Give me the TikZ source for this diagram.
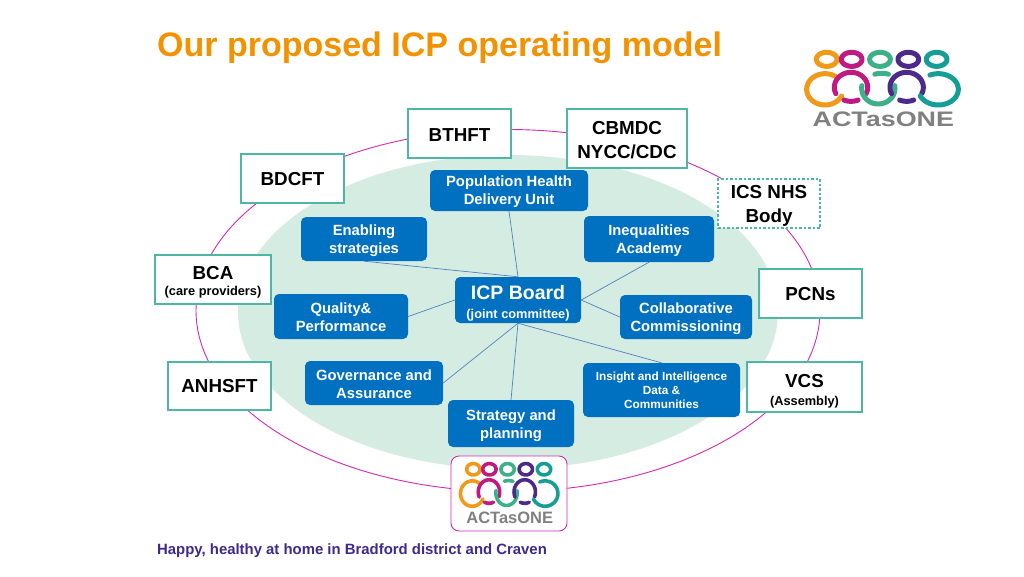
\documentclass[tikz,border=0pt]{standalone}
\usepackage{fontspec}
\setmainfont{Liberation Sans}
\definecolor{titleor}{HTML}{F39200}
\definecolor{footpur}{HTML}{3F2A8C}
\definecolor{boxteal}{HTML}{4DB6A5}
\definecolor{boardblue}{HTML}{0070C0}
\definecolor{pale}{HTML}{D5ECE3}
\definecolor{ringmag}{HTML}{D42BB0}
\definecolor{linkblue}{HTML}{4F81BD}
\definecolor{lgor}{HTML}{F09A1A}
\definecolor{lgmag}{HTML}{BE1A82}
\definecolor{lggr}{HTML}{3DB08A}
\definecolor{lgpu}{HTML}{4B2A8C}
\definecolor{lgte}{HTML}{159E96}
\definecolor{lggy}{HTML}{808080}
\tikzset{
  partner/.style={draw=boxteal,line width=1.1pt,fill=white,inner sep=0pt,align=center,font=\fontsize{18.8}{23.5}\selectfont\bfseries,text=black},
  unit/.style={fill=boardblue,rounded corners=5pt,inner sep=0pt,align=center,text=white,font=\fontsize{14.8}{18}\selectfont\bfseries},
  link/.style={draw=linkblue,line width=0.7pt},
}
\newcommand{\tp}[1]{\rule{0pt}{#1pt}}
\newcommand{\lgarc}[7]{\draw[#1] plot[domain=#6:#7,samples=40,smooth] ({#2+#4*cos(\x)},{#3+#5*sin(\x)});}
% logo in the units of a 3x crop: #1,#2 origin, #3 xscale, #4 yscale, #5 line width, #6 name, #7 font size, #8 text stretch
\newcommand{\actlogo}[8]{%
  \begin{scope}[shift={(#1,#2)},xscale=#3,yscale=#4,line width=#5,line cap=round]
    \lgarc{lgor}{110}{88}{31}{21}{0}{360}
    \lgarc{lgmag}{185}{88}{31}{21}{0}{360}
    \lgarc{lggr}{270}{88}{31}{21}{0}{360}
    \lgarc{lgpu}{355}{88}{31}{21}{0}{360}
    \lgarc{lgte}{440}{88}{31}{21}{0}{360}
    \lgarc{lgor}{105}{178}{55}{47}{25}{305}
    \lgarc{lgmag}{183}{172}{50}{45}{-205}{25}
    \lgarc{lgmag}{183}{172}{50}{42}{65}{115}
    \lgarc{lggr}{265}{175}{50}{47}{-10}{190}
    \lgarc{lggr}{275}{175}{60}{45}{-110}{-70}
    \lgarc{lgpu}{350}{172}{50}{45}{-205}{25}
    \lgarc{lgpu}{350}{172}{50}{42}{65}{115}
    \lgarc{lgte}{445}{178}{60}{47}{-115}{155}
  \end{scope}
  \node[text=lggy,inner sep=0pt,anchor=center] (#6) at (#1+#3*280,#2+#4*268) {\fontsize{#7}{10}\selectfont\bfseries\scalebox{#8}[1]{ACTasONE}};
}
\begin{document}
\begin{tikzpicture}[x=1pt,y=-1pt]
\useasboundingbox (0,0) rectangle (1024,576);
\fill[white] (0,0) rectangle (1024,576);
% ellipses
\draw[ringmag,line width=0.9pt] (508,310.5) ellipse [x radius=312,y radius=181];
\fill[pale] (508,312) ellipse [x radius=270,y radius=157];
% title and footer
\node[anchor=base west,inner sep=0pt,text=titleor,font=\fontsize{34}{36}\selectfont\bfseries] (title) at (157,56) {Our proposed ICP operating model};
\node[anchor=base west,inner sep=0pt,text=footpur,font=\fontsize{14.9}{17}\selectfont\bfseries] (foot) at (157,554) {Happy, healthy at home in Bradford district and Craven};
% partner boxes
\node[partner,minimum width=103pt,minimum height=49pt] (bthft) at (459.5,133.5) {\tp{15}BTHFT};
\node[partner,minimum width=120pt,minimum height=59pt] (cbmdc) at (627,138.5) {\tp{16}CBMDC\\NYCC/CDC};
\node[partner,dashed,dash pattern=on 2.5pt off 2pt,minimum width=102pt,minimum height=49pt] (ics) at (769,203.5) {\tp{18}ICS NHS\\Body};
\node[partner,minimum width=103pt,minimum height=49pt] (bdcft) at (292.5,178.5) {\tp{14}BDCFT};
\node[partner,minimum width=116pt,minimum height=49pt,font=\fontsize{18.8}{20}\selectfont\bfseries] (bca) at (213,279.5) {\tp{19}BCA\\[-4pt]{\fontsize{12.8}{15}\selectfont (care providers)}};
\node[partner,minimum width=103pt,minimum height=49pt] (pcns) at (810.5,293.5) {\tp{15}PCNs};
\node[partner,minimum width=103pt,minimum height=48pt] (anhsft) at (219.5,386) {\tp{14}ANHSFT};
\node[partner,minimum width=115pt,minimum height=50pt,font=\fontsize{18.8}{20}\selectfont\bfseries] (vcs) at (804.5,387) {\tp{21}VCS\\[-2pt]{\fontsize{12.8}{15}\selectfont (Assembly)}};
% blue units
\node[unit,minimum width=158pt,minimum height=41pt] (pop) at (509,190.5) {\tp{13}Population Health\\Delivery Unit};
\node[unit,minimum width=126pt,minimum height=44pt] (enab) at (364,239) {\tp{15}Enabling\\strategies};
\node[unit,minimum width=130pt,minimum height=46pt] (ineq) at (649,239) {\tp{15}Inequalities\\Academy};
\node[unit,minimum width=126pt,minimum height=46pt,font=\fontsize{19.5}{22}\selectfont\bfseries] (icp) at (518,300) {\tp{20}ICP Board\\[-3pt]{\fontsize{12.8}{15}\selectfont (joint committee)}};
\node[unit,minimum width=134pt,minimum height=45pt] (qual) at (341,316.5) {\tp{13}Quality\&\\Performance};
\node[unit,minimum width=132pt,minimum height=44pt] (coll) at (686,317) {\tp{15}Collaborative\\Commissioning};
\node[unit,minimum width=138pt,minimum height=44pt] (gov) at (374,383) {\tp{13}Governance and\\Assurance};
\node[unit,minimum width=157pt,minimum height=54pt,font=\fontsize{11.8}{14}\selectfont\bfseries] (ins) at (661.5,390) {Insight and Intelligence\\Data \&\\Communities};
\node[unit,minimum width=126pt,minimum height=47pt] (strat) at (511,423.5) {\tp{15}Strategy and\\planning};
% connectors
\draw[link] (icp.north) -- (pop.south);
\draw[link] (icp.north) -- (enab.south);
\draw[link] (icp.east) -- (ineq.south);
\draw[link] (icp.east) -- (coll.west);
\draw[link] (icp.west) -- (qual.east);
\draw[link] (icp.south) -- (gov.east);
\draw[link] (icp.south) -- (strat.north);
\draw[link] (icp.south) -- (ins.north);
% logos
\node[draw=ringmag,line width=0.9pt,fill=white,rounded corners=8pt,minimum width=116pt,minimum height=75pt,inner sep=0pt] (logobox) at (509,493.5) {};
\actlogo{790}{30}{0.3333}{0.3333}{5pt}{logotop}{21}{1.28}
\actlogo{449.8}{445.5}{0.2141}{0.27}{3.6pt}{logobot}{16.5}{1.0}
\end{tikzpicture}
\end{document}
